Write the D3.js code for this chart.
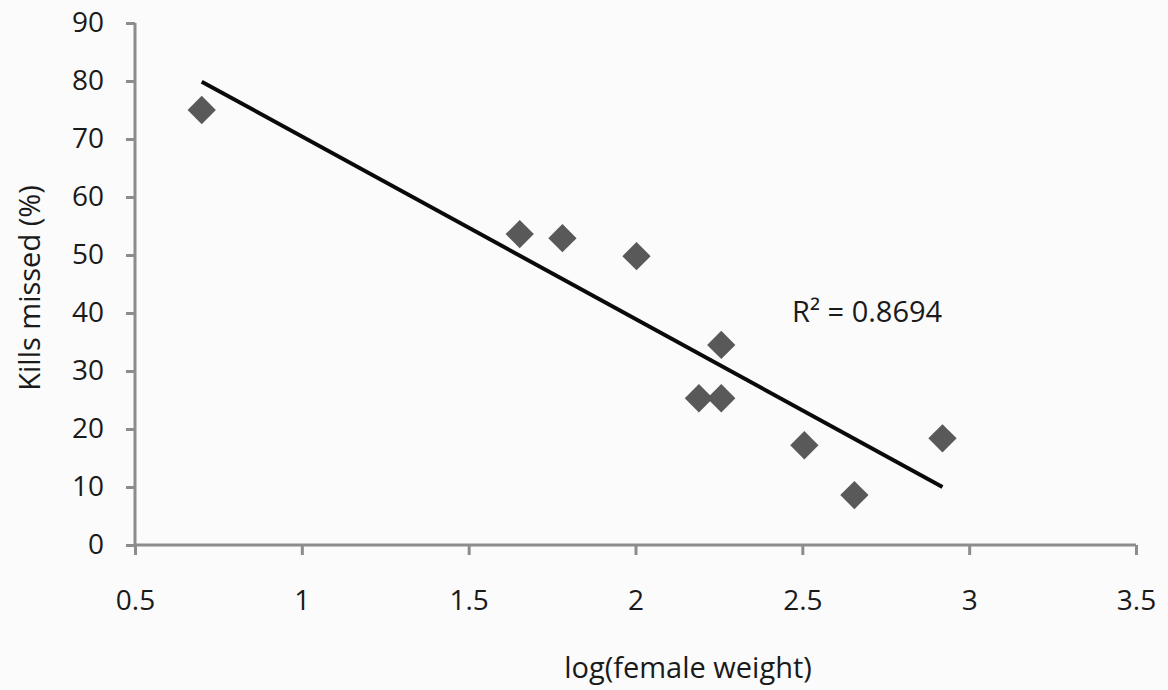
<!DOCTYPE html>
<html>
<head>
<meta charset="utf-8">
<script src="https://cdn.jsdelivr.net/npm/d3@7"></script>
<style>
  body { margin: 0; background: #fbfbfb; }
  text { font-family: "Open Sans", sans-serif; fill: #1a1a1a; }
</style>
</head>
<body>
<div id="chart"></div>
<script>
// data
var logWeight = [0.70, 1.653, 1.781, 2.003, 2.257, 2.19, 2.257, 2.506, 2.656, 2.92];
var killsMissed = [75.0, 53.6, 52.9, 49.8, 34.5, 25.3, 25.3, 17.2, 8.6, 18.4];
var xTicks = [0.5, 1, 1.5, 2, 2.5, 3, 3.5];
var yTicks = [0, 10, 20, 30, 40, 50, 60, 70, 80, 90];
var rSquared = "0.8694";

var W = 1168, H = 690;
var margin = {top: 23, right: 32, bottom: 145, left: 135};
var width = W - margin.left - margin.right,
    height = H - margin.top - margin.bottom;

var svg = d3.select("#chart").append("svg")
    .attr("width", W)
    .attr("height", H)
    .append("g")
    .attr("transform", "translate(" + margin.left + "," + margin.top + ")");

var x = d3.scaleLinear().domain([0.5, 3.5]).range([0, width]);
var y = d3.scaleLinear().domain([0, 90]).range([height, 0]);

var axisColor = "#8c8c8c";

// x axis
var xAxis = svg.append("g")
    .attr("transform", "translate(0," + height + ")")
    .call(d3.axisBottom(x).tickValues(xTicks).tickSize(10).tickPadding(35)
        .tickFormat(function(d) { return String(d); }));
xAxis.select(".domain").attr("stroke", axisColor).attr("stroke-width", 3).attr("d", "M0,0H" + width);
xAxis.selectAll(".tick line").attr("stroke", axisColor).attr("stroke-width", 3);
xAxis.selectAll(".tick text").style("font-size", "28px").attr("fill", "#1a1a1a").attr("font-family", "Open Sans");

// y axis
var yAxis = svg.append("g")
    .call(d3.axisLeft(y).tickValues(yTicks).tickSize(9).tickPadding(22));
yAxis.select(".domain").attr("stroke", axisColor).attr("stroke-width", 3).attr("d", "M0," + height + "V0");
yAxis.selectAll(".tick line").attr("stroke", axisColor).attr("stroke-width", 3);
yAxis.selectAll(".tick text").style("font-size", "28px").attr("fill", "#1a1a1a").attr("font-family", "Open Sans");

// linear trendline (least squares)
var n = logWeight.length;
var mx = d3.mean(logWeight), my = d3.mean(killsMissed);
var sxy = 0, sxx = 0;
for (var i = 0; i < n; i++) {
    sxy += (logWeight[i] - mx) * (killsMissed[i] - my);
    sxx += (logWeight[i] - mx) * (logWeight[i] - mx);
}
var slope = sxy / sxx, intercept = my - slope * mx;
var xMin = d3.min(logWeight), xMax = d3.max(logWeight);

svg.append("line")
    .attr("x1", x(xMin)).attr("y1", y(intercept + slope * xMin))
    .attr("x2", x(xMax)).attr("y2", y(intercept + slope * xMax))
    .attr("stroke", "#0a0a0a")
    .attr("stroke-width", 4);

// diamonds
svg.selectAll(".pt")
    .data(logWeight)
    .enter().append("path")
    .attr("class", "pt")
    .attr("d", d3.symbol(d3.symbolSquare, 400))
    .attr("transform", function(d, i) {
        return "translate(" + x(d) + "," + y(killsMissed[i]) + ") rotate(45)";
    })
    .attr("fill", "#595959");

// R² label
svg.append("text")
    .attr("x", 657)
    .attr("y", 299)
    .style("font-size", "29px")
    .text("R\u00b2 = " + rSquared);

// axis titles
svg.append("text")
    .attr("x", 553)
    .attr("y", 655)
    .attr("text-anchor", "middle")
    .style("font-size", "29px")
    .text("log(female weight)");

svg.append("text")
    .attr("transform", "translate(-95," + 265 + ") rotate(-90)")
    .attr("text-anchor", "middle")
    .style("font-size", "29px")
    .text("Kills missed (%)");
</script>
</body>
</html>
